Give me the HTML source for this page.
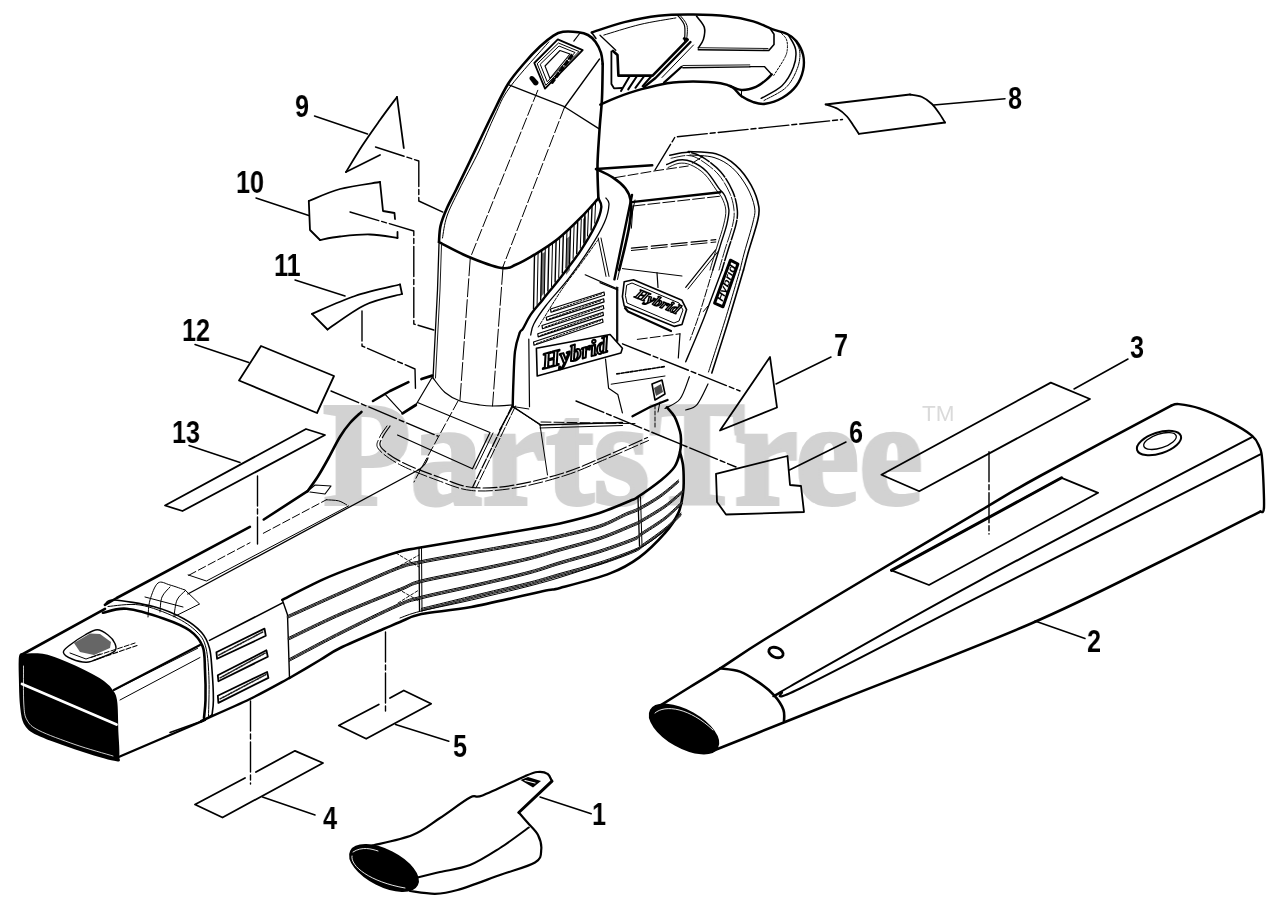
<!DOCTYPE html>
<html><head><meta charset="utf-8"><style>
html,body{margin:0;padding:0;background:#fff;width:1280px;height:912px;overflow:hidden}
.wm{position:absolute;left:0;top:0;will-change:transform;font-family:"Liberation Serif",serif;font-weight:bold;color:#d2d2d2;white-space:nowrap;line-height:1}
.lb{position:absolute;will-change:transform;font-family:"Liberation Sans",sans-serif;font-weight:bold;font-size:31px;line-height:1;color:#000;transform-origin:0 0}
svg{position:absolute;left:0;top:0;will-change:transform}
</style></head><body>
<div class="wm" style="left:322.5px;top:378.5px;font-size:149px;transform:scaleX(0.962);transform-origin:0 0;-webkit-text-stroke:4px #d2d2d2">PartsTree</div>
<div class="wm" style="left:921.8px;top:402.5px;font-family:'Liberation Sans',sans-serif;font-weight:normal;font-size:22.5px;color:#dadada">TM</div>
<svg width="1280" height="912" viewBox="0 0 1280 912" stroke-linejoin="round" stroke-linecap="round">
<polyline points="314.5,116 367.5,134" fill="none" stroke="#000" stroke-width="1.5"/>
<polyline points="256,198 308.8,215.5" fill="none" stroke="#000" stroke-width="1.5"/>
<polyline points="295,280 345,296" fill="none" stroke="#000" stroke-width="1.5"/>
<polyline points="195,344.5 248.8,362.5" fill="none" stroke="#000" stroke-width="1.5"/>
<polyline points="189,445.5 240,462.5" fill="none" stroke="#000" stroke-width="1.5"/>
<polyline points="933.8,105 1005,98.8" fill="none" stroke="#000" stroke-width="1.5"/>
<polyline points="831,357 776,384" fill="none" stroke="#000" stroke-width="1.5"/>
<polyline points="846,442 789.5,470" fill="none" stroke="#000" stroke-width="1.5"/>
<polyline points="1128,359 1074,389" fill="none" stroke="#000" stroke-width="1.5"/>
<polyline points="1035,621 1085,638.5" fill="none" stroke="#000" stroke-width="1.5"/>
<polyline points="540,797 591.2,813.8" fill="none" stroke="#000" stroke-width="1.5"/>
<polyline points="262.5,797 315,815" fill="none" stroke="#000" stroke-width="1.5"/>
<polyline points="395.5,724.5 448.8,741.2" fill="none" stroke="#000" stroke-width="1.5"/>
<path d="M380,155 L346,172" fill="none" stroke="#000" stroke-width="1.8"/>
<path d="M346,172 C348.7,167.7 356.3,154.7 362,146 C367.7,137.3 374.2,128.2 380,120 C385.8,111.8 394.2,100.8 397,97" fill="none" stroke="#000" stroke-width="1.8"/>
<polyline points="397,97 403.8,148" fill="none" stroke="#000" stroke-width="1.8"/>
<polyline points="375.5,147 418.8,161 418.8,201 445,213" fill="none" stroke="#000" stroke-width="1.4" stroke-dasharray="30 3 5 3"/>
<path d="M320,240 C323.3,239.4 331.7,237.4 340,236.5 C348.3,235.6 360.4,234.2 370,234.5 C379.6,234.8 392.9,237.4 397.5,238" fill="none" stroke="#000" stroke-width="1.8"/>
<polyline points="397.5,232 397.5,238" fill="none" stroke="#000" stroke-width="1.8"/>
<polyline points="320,240 310,230 308.8,201" fill="none" stroke="#000" stroke-width="1.8"/>
<path d="M308.8,201 C314,199 328.1,192.2 340,189 C351.9,185.8 373.3,183.2 380,182" fill="none" stroke="#000" stroke-width="1.8"/>
<polyline points="380,182 383,211 394.5,213 395,219" fill="none" stroke="#000" stroke-width="1.8"/>
<polyline points="350,212 413.8,231 413.8,324 433.8,330" fill="none" stroke="#000" stroke-width="1.4" stroke-dasharray="30 3 5 3"/>
<path d="M312,313.8 C319.2,310.8 340.3,300.9 355,296 C369.7,291.1 392.5,286.4 400,284.5" fill="none" stroke="#000" stroke-width="1.8"/>
<polyline points="400,284.5 402,294" fill="none" stroke="#000" stroke-width="1.8"/>
<path d="M402,294 C395.8,295.8 377.4,299.1 365,305 C352.6,310.9 333.8,325.4 327.5,329.5" fill="none" stroke="#000" stroke-width="1.8"/>
<polyline points="327.5,329.5 312,313.8" fill="none" stroke="#000" stroke-width="1.8"/>
<polyline points="362,311 362,346 415,369 415.5,390" fill="none" stroke="#000" stroke-width="1.4" stroke-dasharray="30 3 5 3"/>
<polygon points="261,346 334,376 317,413 239,380.5" fill="none" stroke="#000" stroke-width="1.8"/>
<polyline points="331,391 437.5,436" fill="none" stroke="#000" stroke-width="1.4" stroke-dasharray="30 3 5 3"/>
<polygon points="306,429 325,435 182.5,511 165,505.5" fill="none" stroke="#000" stroke-width="1.8"/>
<polyline points="257.5,476 257.5,544" fill="none" stroke="#000" stroke-width="1.4" stroke-dasharray="30 3 5 3"/>
<polyline points="825.5,104.5 910,94.5" fill="none" stroke="#000" stroke-width="1.8"/>
<path d="M910,94.5 C912,94.9 918.3,95.4 922,97 C925.7,98.6 929.2,101.3 932,104 C934.8,106.7 936.8,109.9 939,113 C941.2,116.1 944,120.9 945,122.5" fill="none" stroke="#000" stroke-width="1.8"/>
<polyline points="945,122.5 858.8,133.8" fill="none" stroke="#000" stroke-width="1.8"/>
<path d="M858.8,133.8 C857.8,132.3 855,127.9 853,125 C851,122.1 849.5,119.2 847,116.5 C844.5,113.8 841.5,111 838,109 C834.5,107 828,105.2 826,104.5" fill="none" stroke="#000" stroke-width="1.8"/>
<polyline points="655,170 675,137 842.5,119.5" fill="none" stroke="#000" stroke-width="1.4" stroke-dasharray="30 3 5 3"/>
<polygon points="720,430.5 770,357 777,407.5" fill="none" stroke="#000" stroke-width="1.8"/>
<polyline points="622.5,343.8 740,391" fill="none" stroke="#000" stroke-width="1.4" stroke-dasharray="30 3 5 3"/>
<polygon points="716,473.8 787.5,456 790,485 801,486 804,512 726,514.5 717,502" fill="none" stroke="#000" stroke-width="1.8"/>
<polyline points="576,401 736,467" fill="none" stroke="#000" stroke-width="1.4" stroke-dasharray="30 3 5 3"/>
<polygon points="881.4,474.7 1050.8,382.6 1090,399 919.2,491.2" fill="none" stroke="#000" stroke-width="1.8"/>
<polyline points="989,451.7 989,534" fill="none" stroke="#000" stroke-width="1.4" stroke-dasharray="30 3 5 3"/>
<polyline points="245,778 195,804.5 222.5,817.5 323,763 295,750.8 256,772" fill="none" stroke="#000" stroke-width="1.8"/>
<polyline points="250.5,701 250.5,784" fill="none" stroke="#000" stroke-width="1.4" stroke-dasharray="30 3 5 3"/>
<polyline points="378.8,704.5 338.8,725.5 366.2,738.8 431.2,703.8 403.8,690.5 390,698" fill="none" stroke="#000" stroke-width="1.8"/>
<polyline points="385.5,632 385.5,714" fill="none" stroke="#000" stroke-width="1.4" stroke-dasharray="30 3 5 3"/>
<path d="M659.7,705.8 C664.8,702.7 679.9,693.2 690,687 C700.1,680.8 708,676.1 720.3,668.3 C732.6,660.5 740.4,654.4 763.7,640 C787,625.6 823.3,603.9 860,582 C896.7,560.1 954,526.2 984,508.5 C1014,490.8 1008.8,493.1 1040,476 C1071.2,458.9 1149.4,417.3 1171.3,405.6" fill="none" stroke="#000" stroke-width="2.6"/>
<path d="M1171.3,405.6 C1172.5,405.4 1174.1,403.6 1178.8,404.1 C1183.5,404.6 1191.3,405.6 1199.4,408.4 C1207.5,411.1 1218.8,416.1 1227.5,420.6 C1236.2,425.1 1246.6,431.2 1251.9,435.6 C1257.2,440 1257.7,442.8 1259.4,446.9 C1261.1,451 1261.4,450 1262.2,460 C1263,470 1264.3,498.3 1264,506.9 C1263.7,515.5 1260.9,510.8 1260.3,511.6" fill="none" stroke="#000" stroke-width="2.4"/>
<path d="M1260.3,511.6 C1244.2,519.7 1202.1,541.3 1163.8,560 C1125.4,578.7 1084,600.7 1030,624 C976,647.3 880.8,683.7 840,700 C799.2,716.3 806,713.6 785,722 C764,730.4 725.6,745.8 713.7,750.5" fill="none" stroke="#000" stroke-width="2.6"/>
<path d="M1252.8,436.6 C1207.3,460.6 1057.1,538.6 980,580.3 C902.9,621.9 823,667.8 790,686.5 C757,705.2 783.1,691.3 781.7,692.3" fill="none" stroke="#000" stroke-width="2"/>
<path d="M1260.3,454.4 C1213.6,478 1056.7,557.2 980,596.2 C903.3,635.2 833,672.5 800,688.5 C767,704.5 784.8,691.7 781.7,692.3" fill="none" stroke="#000" stroke-width="2"/>
<path d="M720.3,668.3 C723.6,668.8 733.6,669.3 740,671.6 C746.4,673.9 752.7,678.2 758.4,682.1 C764.1,686 770,690.7 774.2,695.3 C778.4,699.9 781.8,705.3 783.4,709.7 C785,714.1 783.9,719.6 784,721.6" fill="none" stroke="#000" stroke-width="2.6"/>
<polygon points="891.5,570.4 1061.6,477.8 1098.1,492.8 929,585" fill="none" stroke="#000" stroke-width="1.8"/>
<polyline points="891.5,570.4 1061.6,477.8" fill="none" stroke="#000" stroke-width="3"/>
<ellipse cx="1159" cy="443" rx="23" ry="10.5" transform="rotate(-18 1159 443)" fill="none" stroke="#000" stroke-width="2"/>
<ellipse cx="1160" cy="441" rx="17" ry="7" transform="rotate(-18 1160 441)" fill="none" stroke="#000" stroke-width="1.3"/>
<ellipse cx="776" cy="652.5" rx="7.5" ry="4.8" transform="rotate(22 776 652.5)" fill="none" stroke="#000" stroke-width="2.8"/>
<ellipse cx="684" cy="729" rx="38" ry="18" transform="rotate(29.5 684 729)" fill="#000" stroke="#000" stroke-width="2"/>
<path d="M655,713 C665,704 690,708 713,730" fill="none" stroke="#fff" stroke-width="0.9"/>
<path d="M372.5,845.5 C379.2,843.8 401.2,839.6 412.5,835 C423.8,830.4 430.4,824.2 440,818 C449.6,811.8 462.9,801.2 470,797.5 C477.1,793.8 473.3,799 482.5,795.5 C491.7,792 515.8,780.2 525,776.2 C534.2,772.3 533.8,772.4 537.5,772 C541.2,771.6 545.1,772.2 547.5,773.8 C549.9,775.3 551.2,780 552,781.2" fill="none" stroke="#000" stroke-width="2.2"/>
<polyline points="552,781.2 518.8,812.5" fill="none" stroke="#000" stroke-width="3"/>
<path d="M518.8,812.5 C520.2,814.2 524.3,818.8 527.5,822.5 C530.7,826.2 535.7,830.4 538,835 C540.3,839.6 541.8,845.4 541.2,850 C540.8,854.6 541.9,858.3 535,862.5 C528.1,866.7 512.9,870.4 500,875 C487.1,879.6 468.3,886.9 457.5,890 C446.7,893.1 442.9,893.6 435,893.8 C427.1,893.9 414.2,891.5 410,891" fill="none" stroke="#000" stroke-width="2.2"/>
<path d="M417.5,877.5 C421.2,876.6 431.2,874.1 440,872 C448.8,869.9 460,869 470,865 C480,861 490.2,854.2 500,848 C509.8,841.8 524,830.9 528.8,827.5" fill="none" stroke="#000" stroke-width="2"/>
<polygon points="520.5,780 528,777 541,781 533,787.5" fill="#000"/>
<polyline points="525,780.5 535,783" fill="none" stroke="#fff" stroke-width="1.2"/>
<ellipse cx="384" cy="868" rx="37" ry="17.5" transform="rotate(27 384 868)" fill="#000" stroke="#000" stroke-width="2"/>
<path d="M352,856 C350,866 370,882 405,888" fill="none" stroke="#fff" stroke-width="0.9"/><path d="M353,852 C362,846 372,849 378,851" fill="none" stroke="#fff" stroke-width="0.9"/>
<path d="M439,242.2 C439.2,239.5 439.2,231.7 440.5,226 C441.8,220.3 444.3,214.2 447,208 C449.7,201.8 452.7,196.8 456.5,189 C460.3,181.2 464,173.5 470,161 C476,148.5 486.2,126.8 492.5,114 C498.8,101.2 502.8,92.4 508,84 C513.2,75.6 518.7,69.8 524,63.5 C529.3,57.2 535.1,51.1 540,46.5 C544.9,41.9 549.7,38.1 553.5,35.6 C557.3,33.1 558.9,32.4 563,31.8 C567.1,31.2 574.2,31.7 578.4,32.2 C582.6,32.7 585.1,33.4 588,35 C590.9,36.6 593.4,38.9 595.6,41.9 C597.8,44.9 599.8,49.1 601,52.8 C602.2,56.5 602.4,62.1 602.7,64" fill="none" stroke="#000" stroke-width="2.6"/>
<path d="M602.7,64 C602.6,69.7 602.5,87 602,98 C601.5,109 600.2,118.8 599.5,130 C598.8,141.2 597.7,153.6 597.5,165 C597.3,176.4 598.2,192.8 598.4,198.4" fill="none" stroke="#000" stroke-width="2.6"/>
<path d="M442.5,238 C443.2,234.3 444.2,224 447,216 C449.8,208 453.7,200.8 459,190 C464.3,179.2 473,163.5 479,151 C485,138.5 489.8,125.7 495,115 C500.2,104.3 501,99.2 510,87 C519,74.8 542.3,49.4 548.8,41.9" fill="none" stroke="#000" stroke-width="1"/>
<path d="M439,242.2 C443.7,244.5 456.8,251.9 467.2,256.2 C477.6,260.6 493.5,266.6 501.6,268 C509.7,269.4 510.1,267 515.6,264.8 C521.1,262.6 527.4,259 534.4,254.7 C541.4,250.4 550,245.2 557.8,239 C565.6,232.8 574.5,224 581.2,217.2 C588,210.4 595.5,201.5 598.4,198.4" fill="none" stroke="#000" stroke-width="2.6"/>
<polyline points="508.9,84.8 564.4,106.7 598.8,128.6" fill="none" stroke="#000" stroke-width="1.3"/>
<polyline points="599.5,59 564.4,107.5" fill="none" stroke="#000" stroke-width="1.3"/>
<polyline points="537.8,90.3 470.3,257.8" fill="none" stroke="#000" stroke-width="1" stroke-dasharray="12 3"/>
<polyline points="564.4,107.5 503.1,266.4" fill="none" stroke="#000" stroke-width="1" stroke-dasharray="12 3"/>
<polygon points="534.3,63 557.8,39.4 582.7,50.1 545,88.6" fill="none" stroke="#000" stroke-width="1.8"/>
<polygon points="537.5,63.5 558.5,43 579,51.5 546,85" fill="none" stroke="#000" stroke-width="1"/>
<polygon points="540.5,64 559,46 575,52.5 547.5,81.5" fill="none" stroke="#000" stroke-width="1"/>
<polygon points="545,66 560,50.5 570,54 550,78.5" fill="none" stroke="#000" stroke-width="1.1"/>
<polygon points="567.2,58.9 571.2,53.4 573.7,55.9 570.7,59.9" fill="#000"/>
<polygon points="562.8,64.9 566.8,59.4 569.2,61.9 566.2,65.9" fill="#000"/>
<polygon points="558.3,71.0 562.3,65.5 564.8,68.0 561.8,72.0" fill="#000"/>
<polygon points="553.9,77.0 557.9,71.5 560.4,74.0 557.4,78.0" fill="#000"/>
<polygon points="549.4,83.1 553.4,77.6 555.9,80.1 552.9,84.1" fill="#000"/>
<path d="M529.5,79 C529,76 532,75 534,77 L538.5,82 C539,85 536,86 534,85Z" fill="#000"/>
<polyline points="573.8,41.1 580,33" fill="none" stroke="#000" stroke-width="1.2"/>
<polyline points="439,243.8 437.5,290 433,378" fill="none" stroke="#000" stroke-width="1.3"/>
<polyline points="441.5,245 440,290 435.5,378" fill="none" stroke="#000" stroke-width="0.9"/>
<polyline points="470.3,257.8 460,400" fill="none" stroke="#000" stroke-width="1" stroke-dasharray="18 3"/>
<polyline points="503.1,266.4 492.5,406" fill="none" stroke="#000" stroke-width="1" stroke-dasharray="18 3"/>
<path d="M433,378 C435,380.4 440.5,388.7 445,392.5 C449.5,396.3 454.2,398.9 460,401 C465.8,403.1 474.6,404.2 480,405 C485.4,405.8 487.2,406 492.5,406 C497.8,406 508.8,405.2 512,405" fill="none" stroke="#000" stroke-width="1.2"/>
<path d="M591.7,32.5 C597.2,30.8 613.2,25 624.4,22.2 C635.6,19.4 647.3,17 658.8,15.7 C670.2,14.4 681.6,14.4 693.1,14.5 C704.6,14.6 717.5,15.1 727.5,16.2 C737.5,17.3 745.8,19.1 753.3,21.3 C760.8,23.5 766.5,27 772.2,29.1 C777.9,31.2 783.7,32.2 787.7,34.2 C791.7,36.2 793.7,37.7 796.3,41.1 C798.9,44.5 802,49.9 803.1,54.8 C804.2,59.7 804.2,65.1 803.1,70.3 C802,75.5 799.7,81.2 796.3,85.8 C792.9,90.4 787.7,94.8 782.5,97.8 C777.3,100.8 770.2,103.1 765.3,103.8 C760.4,104.5 757.3,103.4 753.3,102.1 C749.3,100.8 744.7,98.5 741.2,96.1 C737.8,93.7 736.1,89.7 732.7,87.5 C729.3,85.3 727.2,84.2 720.6,83.2 C714,82.2 702,81.5 693.1,81.5 C684.2,81.5 675.9,81.9 667.3,83.2 C658.7,84.5 650.2,86.8 641.6,89.2 C633,91.6 622.7,95.2 615.8,97.8 C608.9,100.4 602.9,103.5 600.3,104.7" fill="none" stroke="#000" stroke-width="2.4"/>
<path d="M603.8,35.1 C609.8,33.3 628,27.4 640,24.5 C652,21.6 669.9,19 675.9,17.9" fill="none" stroke="#000" stroke-width="1"/>
<path d="M677.7,15.3 C678.8,17 683.4,21.3 684.5,25.6 C685.6,29.9 684.5,38.5 684.5,41.1" fill="none" stroke="#000" stroke-width="1.2"/>
<path d="M680,15.3 C681.2,17 685.9,21.3 687,25.6 C688.1,29.9 686.6,38.5 686.5,41.1" fill="none" stroke="#000" stroke-width="1"/>
<path d="M696.6,16.2 C697.9,18.1 703.2,23.4 704.3,27.3 C705.4,31.2 704.4,35.9 703.4,39.4 C702.4,42.9 699.1,46.6 698.3,48" fill="none" stroke="#000" stroke-width="1.6"/>
<polyline points="698.3,49.7 768.8,50.5 774,44.5 774,34.2 770.5,29" fill="none" stroke="#000" stroke-width="1.6"/>
<polyline points="698.3,47.7 768,48.5" fill="none" stroke="#000" stroke-width="0.9"/>
<polyline points="682.8,67.7 749.8,66.9" fill="none" stroke="#000" stroke-width="1.4"/>
<polyline points="682.8,65.5 749.8,64.9" fill="none" stroke="#000" stroke-width="0.9"/>
<polyline points="749.8,66.6 764.4,66.6 771.7,74.4" fill="none" stroke="#000" stroke-width="1.4"/>
<path d="M730,85.8 C731.9,86.5 737.2,89.8 741.5,90 C745.8,90.2 751.8,88.6 756,86.9 C760.2,85.2 763.9,81.7 766.5,79.6 C769.1,77.5 770.8,75.3 771.7,74.4" fill="none" stroke="#000" stroke-width="2.4"/>
<polyline points="741.5,90 741.5,97" fill="none" stroke="#000" stroke-width="1"/>
<path d="M779,31.1 C780.2,32.4 784.9,36 786.2,39 C787.6,42 787.6,46.1 787.3,49.4 C787,52.7 786.5,54.4 784.2,58.8 C781.9,63.1 775.5,72.6 773.8,75.4" fill="none" stroke="#000" stroke-width="1" stroke-dasharray="2 1.5"/>
<path d="M788.3,34.8 C789.5,37.2 794.7,44 795.6,49.4 C796.5,54.8 795.8,61 793.5,67.1 C791.2,73.2 787.4,80.6 782,85.8 C776.6,91 764.7,96.2 761.2,98.3" fill="none" stroke="#000" stroke-width="1.5"/>
<path d="M791.5,36 C792.8,38.3 798.5,44.7 799.5,50 C800.5,55.3 799.8,61.8 797.5,68 C795.2,74.2 791.6,82.1 786,87.5 C780.4,92.9 767.7,98.3 764,100.5" fill="none" stroke="#000" stroke-width="1" stroke-dasharray="3 1"/>
<polyline points="613,51 617.5,55 618.4,75.6 652.6,75.6 687.7,39.6 684,38.5" fill="none" stroke="#000" stroke-width="2.6"/>
<polyline points="611.4,51.5 611.4,84 614,88.3 622,88" fill="none" stroke="#000" stroke-width="1.8"/>
<polyline points="690.5,42 655.5,78 644,87" fill="none" stroke="#000" stroke-width="2.4"/>
<polyline points="693.5,45 662,77.5" fill="none" stroke="#000" stroke-width="1"/>
<polyline points="681.6,66.8 664,82.6" fill="none" stroke="#000" stroke-width="2.2"/>
<polyline points="621,91 629.5,76.5" fill="none" stroke="#000" stroke-width="2"/>
<polyline points="628.2,89.4 636.7,76.5" fill="none" stroke="#000" stroke-width="2"/>
<polyline points="635.4,87.8 643.9,76.5" fill="none" stroke="#000" stroke-width="2"/>
<polyline points="642.6,86.2 651.1,76.5" fill="none" stroke="#000" stroke-width="2"/>
<polyline points="600,35.3 615.8,50.2" fill="none" stroke="#000" stroke-width="1.3"/>
<polyline points="596,38.5 591.7,32.5" fill="none" stroke="#000" stroke-width="1.5"/>
<polyline points="596.1,169 652.2,165.3" fill="none" stroke="#000" stroke-width="2.6"/>
<path d="M596.1,169 C598.9,170.4 608.1,174.4 613,177.6 C617.9,180.8 622.3,184.5 625.3,188.3 C628.2,192.1 629.9,195 630.7,200.6 C631.5,206.2 630.8,214.6 629.9,222 C629,229.4 627.1,237.1 625.3,245.1 C623.5,253.1 620.2,265.9 619.2,270" fill="none" stroke="#000" stroke-width="2.6"/>
<polyline points="615.3,177.6 656,170.7 688.2,166" fill="none" stroke="#000" stroke-width="1" stroke-dasharray="10 3"/>
<polyline points="631.4,202.1 720.4,192.2" fill="none" stroke="#000" stroke-width="2.4"/>
<polyline points="633,206 722,196" fill="none" stroke="#000" stroke-width="1" stroke-dasharray="12 3"/>
<polyline points="633,206 631.4,228.2" fill="none" stroke="#000" stroke-width="1"/>
<polyline points="631.4,248.2 715.8,239.7" fill="none" stroke="#000" stroke-width="1.2" stroke-dasharray="16 4"/>
<polyline points="631.4,250.5 715.8,242" fill="none" stroke="#000" stroke-width="1" stroke-dasharray="16 4"/>
<path d="M666.7,164.5 C668.8,163.8 674.9,160.5 679,160 C683.1,159.5 686.7,159.6 691.3,161.5 C695.9,163.4 702,166.9 706.6,171.4 C711.2,175.9 715.8,184.2 718.9,188.3 C722,192.4 723.3,192.4 725,196 C726.7,199.6 728.6,204.9 728.9,209.8 C729.2,214.7 728,219.3 726.6,225.2 C725.2,231.1 722.7,237.6 720.4,245.1 C718.1,252.6 714.1,265.9 712.8,270" fill="none" stroke="#000" stroke-width="1.4"/>
<path d="M668,167.5 C669.8,166.8 675.2,163.8 679,163.3 C682.8,162.9 686.2,163 690.5,164.8 C694.8,166.6 700.2,169.8 704.5,174 C708.8,178.2 713.4,186 716.3,190 C719.2,194 720.4,194.7 722,198 C723.6,201.3 725.5,205.5 725.8,210 C726.1,214.5 725,219.2 723.6,225 C722.2,230.8 719.8,237.5 717.5,245 C715.2,252.5 711.2,265.8 710,270" fill="none" stroke="#000" stroke-width="0.9"/>
<polyline points="692.4,163.1 702.8,156.4" fill="none" stroke="#000" stroke-width="1"/>
<path d="M669.8,155.3 C672.9,154.8 682.8,152 688.2,152.3 C693.6,152.6 696.6,153.7 702,156.9 C707.4,160.1 715.3,165.7 720.4,171.4 C725.5,177.2 729.9,185 732.7,191.4 C735.5,197.8 736.8,204.2 737.3,209.8 C737.8,215.4 737.3,218.5 735.8,225.2 C734.3,231.8 730.4,242.2 728.1,249.7 C725.8,257.2 723,266.6 722,270" fill="none" stroke="#000" stroke-width="1.5" stroke-dasharray="20 2"/>
<path d="M671,158.3 C673.8,157.8 683.1,155.2 688,155.5 C692.9,155.8 695.5,156.9 700.5,160 C705.5,163.1 713.1,168.5 718,174 C722.9,179.5 727,187 729.7,193 C732.4,199 733.5,204.7 734,210 C734.5,215.3 734.1,218.4 732.6,225 C731.1,231.6 727.3,242 725,249.5 C722.7,257 720,266.6 719,270" fill="none" stroke="#000" stroke-width="0.9" stroke-dasharray="14 2"/>
<path d="M688.2,151.5 C692.8,151.9 707.9,151.5 715.8,153.8 C723.7,156.1 729.9,160.1 735.8,165.3 C741.7,170.5 747.3,178.3 751.1,185.2 C754.9,192.1 757.8,200.6 758.8,206.7 C759.8,212.8 759.1,214.3 757.3,222 C755.5,229.7 750.4,244.8 748.1,252.8 C745.8,260.8 744.3,267.1 743.5,270" fill="none" stroke="#000" stroke-width="1.6"/>
<path d="M690,155 C694,155.4 706.9,155.3 714,157.5 C721.1,159.7 727,163.1 732.5,168 C738,172.9 743.3,180.5 747,187 C750.7,193.5 753.5,201.2 754.5,207 C755.5,212.8 754.7,214.5 753,222 C751.3,229.5 746.7,244 744.5,252 C742.3,260 740.8,267 740,270" fill="none" stroke="#000" stroke-width="1"/>
<path d="M743.5,270 C740.9,278.7 733.3,304.8 728,322 C722.7,339.2 714.5,364.5 711.8,373" fill="none" stroke="#000" stroke-width="1.6"/>
<path d="M740,270 C737.4,278.7 729.8,305 724.5,322 C719.2,339 711.2,363.7 708.5,372" fill="none" stroke="#000" stroke-width="1"/>
<path d="M722,270 C719,278 710,302.7 704,318 C698,333.3 688.8,354.5 685.7,361.8" fill="none" stroke="#000" stroke-width="1.4"/>
<path d="M712.8,270 C710.7,277 703.8,300.3 700,312 C696.2,323.7 691.7,335.3 690,340" fill="none" stroke="#000" stroke-width="1" stroke-dasharray="8 2"/>
<polyline points="708,306 703.4,311.5" fill="none" stroke="#000" stroke-width="1"/>
<polygon points="730.4,260.2 737.9,264 723,306.8 714.6,303.1" fill="none" stroke="#000" stroke-width="3" stroke-linejoin="round"/>
<text transform="translate(722.5,302) rotate(-69)" font-family="Liberation Sans" font-weight="bold" font-style="italic" font-size="10" fill="#000" textLength="38" lengthAdjust="spacingAndGlyphs">Hybrid</text>
<polygon points="624.2,281.7 633.5,279.8 682,300.3 686.6,309.6 682,324.5 674.5,326.4 624.2,305.9 622.4,296.6" fill="none" stroke="#000" stroke-width="1.6"/>
<polygon points="627,285 632,283 679,303 683,310 679,321 674,323 627,303 625.5,296" fill="none" stroke="#000" stroke-width="1"/>
<text transform="translate(634,297) rotate(22) skewX(-10)" font-family="Liberation Serif" font-weight="bold" font-style="italic" font-size="14" fill="#fff" stroke="#000" stroke-width="1.4" textLength="46" lengthAdjust="spacingAndGlyphs">Hybrid</text>
<polyline points="622.4,268.6 682,276" fill="none" stroke="#000" stroke-width="1"/>
<polyline points="657,272.7 658,287.5" fill="none" stroke="#000" stroke-width="1.2"/>
<polyline points="625,308 628,311.5 671,331" fill="none" stroke="#000" stroke-width="2.2"/>
<polyline points="685.7,287.3 715.5,250" fill="none" stroke="#000" stroke-width="1.2"/>
<polyline points="688,289 718,251.5" fill="none" stroke="#000" stroke-width="1"/>
<polyline points="617.7,287.3 617.7,341.3" fill="none" stroke="#000" stroke-width="1.2"/>
<polyline points="600,282.6 617.7,290" fill="none" stroke="#000" stroke-width="1.2"/>
<polyline points="637.3,339.4 680,333.8" fill="none" stroke="#000" stroke-width="1" stroke-dasharray="10 3"/>
<polyline points="680,333.8 678.3,358" fill="none" stroke="#000" stroke-width="1.2"/>
<polyline points="616.8,373.9 665.2,366.5" fill="none" stroke="#000" stroke-width="1.6" stroke-dasharray="3 1.5"/>
<polyline points="611.2,384.2 665,376" fill="none" stroke="#000" stroke-width="1"/>
<path d="M689.4,376.7 C687.8,380.4 684.1,393.7 680,399 C675.9,404.3 667.5,406.8 665,408.4" fill="none" stroke="#000" stroke-width="1.2"/>
<path d="M708,384 C706.2,387.4 700.7,400.3 697,404.6 C693.3,408.9 687.6,409.1 685.7,410" fill="none" stroke="#000" stroke-width="1.2"/>
<polygon points="652,384 662,380 665,394 655,400" fill="none" stroke="#000" stroke-width="1.6"/>
<path d="M654,388 L661,384 L663,392 L656,396Z" fill="#000" opacity="0.7"/>
<polyline points="632.5,416.2 650,407 667.5,400" fill="none" stroke="#000" stroke-width="2.4"/>
<polyline points="655,405 655,427.5" fill="none" stroke="#000" stroke-width="1" stroke-dasharray="4 2"/>
<polyline points="660,402 658,412" fill="none" stroke="#000" stroke-width="1"/>
<polyline points="534.5,254.9 533.5,309" fill="none" stroke="#000" stroke-width="1.4"/>
<polyline points="538.1,253 537.1,304.5" fill="none" stroke="#000" stroke-width="1"/>
<polyline points="541.7,250.6 540.7,300" fill="none" stroke="#000" stroke-width="1.4"/>
<polyline points="545.3,248.2 544.3,295.5" fill="none" stroke="#000" stroke-width="1"/>
<polyline points="548.9,245.8 547.9,291" fill="none" stroke="#000" stroke-width="1.4"/>
<polyline points="552.5,243.4 551.5,286.5" fill="none" stroke="#000" stroke-width="1"/>
<polyline points="556.1,240.9 555.1,282" fill="none" stroke="#000" stroke-width="1.4"/>
<polyline points="559.7,238.5 558.7,277.5" fill="none" stroke="#000" stroke-width="1"/>
<polyline points="563.3,235.7 562.3,272.9" fill="none" stroke="#000" stroke-width="1.4"/>
<polyline points="566.9,232.3 565.9,268" fill="none" stroke="#000" stroke-width="1"/>
<polyline points="570.5,229 569.5,263.2" fill="none" stroke="#000" stroke-width="1.4"/>
<polyline points="574.1,225.7 573.1,258.4" fill="none" stroke="#000" stroke-width="1"/>
<polyline points="577.7,222.4 576.7,253.6" fill="none" stroke="#000" stroke-width="1.4"/>
<polyline points="581.3,219.1 580.3,248.3" fill="none" stroke="#000" stroke-width="1"/>
<polyline points="584.9,214.4 583.9,242.2" fill="none" stroke="#000" stroke-width="1.4"/>
<polyline points="588.5,209.7 587.5,236.1" fill="none" stroke="#000" stroke-width="1"/>
<polyline points="592.1,205 591.1,230" fill="none" stroke="#000" stroke-width="1.4"/>
<polyline points="595.7,200.3 594.7,223.2" fill="none" stroke="#000" stroke-width="1"/>
<path d="M541,254 L545,252 L545,292 L541,297Z M566,239 L570,236 L570,270 L566,275Z M583,219 L586,216 L586,243 L583,248Z" fill="#000" opacity="0.55"/>
<path d="M598.2,198 C598.7,199.6 601.8,202.7 601.3,207.3 C600.8,211.9 598.8,218.3 595.2,225.7 C591.6,233.1 585.4,243.4 579.8,251.8 C574.2,260.2 567.5,268.5 561.4,276.4 C555.3,284.3 548.1,293 543,299.4 C537.9,305.8 534,309.8 530.7,314.7 C527.4,319.6 524.9,325.6 523,328.6 C521.1,331.7 520.9,329.2 519.6,333 C518.3,336.8 516,343.2 515,351.4 C514,359.6 513.8,372.9 513.4,382.1 C513,391.3 512.8,402.6 512.7,406.7" fill="none" stroke="#000" stroke-width="2.4"/>
<path d="M605.9,198 C606.4,199 609.2,200.1 609,204.2 C608.8,208.3 607.5,215.4 604.4,222.6 C601.3,229.8 596.5,238 590.6,247.2 C584.7,256.4 576.5,268.2 569.1,277.9 C561.7,287.6 551.9,297.8 546,305.5 C540.1,313.2 536.3,319.1 533.8,324 C531.2,328.9 531.2,333.2 530.7,335" fill="none" stroke="#000" stroke-width="1.3"/>
<path d="M598.2,239.5 C595.2,243.8 586.1,256.6 580,265 C573.9,273.4 568.3,279.9 561.4,290.2 C554.5,300.5 542.2,320.9 538.4,327" fill="none" stroke="#000" stroke-width="1" stroke-dasharray="3 1.5"/>
<polyline points="598.2,238 606,276.4" fill="none" stroke="#000" stroke-width="1"/>
<polyline points="601,238 609,276.4" fill="none" stroke="#000" stroke-width="1"/>
<polyline points="585.2,274.8 616.7,288.6" fill="none" stroke="#000" stroke-width="1.2"/>
<polyline points="616.7,287 616.7,340.7" fill="none" stroke="#000" stroke-width="1.2"/>
<polyline points="632,195 614.4,279.4" fill="none" stroke="#000" stroke-width="2.4"/>
<polyline points="635,200 617.5,279.4" fill="none" stroke="#000" stroke-width="1"/>
<polyline points="528.8,339 529.5,406.7" fill="none" stroke="#000" stroke-width="1.2"/>
<polyline points="512.7,406.7 541,425" fill="none" stroke="#000" stroke-width="1.4"/>
<polyline points="514,406.7 528.8,409" fill="none" stroke="#000" stroke-width="1"/>
<polyline points="512,408 499.6,430" fill="none" stroke="#000" stroke-width="1.2"/>
<polygon points="533.5,342 602.5,319 603,322.2 534,345.2" fill="none" stroke="#000" stroke-width="1.2"/>
<polyline points="536.5,343.6 600.5,320.6" fill="none" stroke="#000" stroke-width="1" stroke-dasharray="2 1.5"/>
<polygon points="537.8,333.8 602.9,312.2 603.4,315.4 538.2,336.9" fill="none" stroke="#000" stroke-width="1.2"/>
<polyline points="540.8,335.4 600.9,313.9" fill="none" stroke="#000" stroke-width="1" stroke-dasharray="2 1.5"/>
<polygon points="542,325.5 603.2,305.5 603.8,308.7 542.5,328.7" fill="none" stroke="#000" stroke-width="1.2"/>
<polyline points="545,327.1 601.2,307.1" fill="none" stroke="#000" stroke-width="1" stroke-dasharray="2 1.5"/>
<polygon points="546.2,317.2 603.6,298.8 604.1,301.9 546.8,320.4" fill="none" stroke="#000" stroke-width="1.2"/>
<polyline points="549.2,318.9 601.6,300.4" fill="none" stroke="#000" stroke-width="1" stroke-dasharray="2 1.5"/>
<polygon points="550.5,309 604,292 604.5,295.2 551,312.2" fill="none" stroke="#000" stroke-width="1.2"/>
<polyline points="553.5,310.6 602,293.6" fill="none" stroke="#000" stroke-width="1" stroke-dasharray="2 1.5"/>
<polygon points="536.4,348.3 610.1,334.5 622.4,348.3 620.9,353 537.2,376" fill="none" stroke="#000" stroke-width="1.6"/>
<polyline points="605.5,359 608.6,388.2 617.8,394.4 622.4,412.8" fill="none" stroke="#000" stroke-width="1.2"/>
<polyline points="541,422 635,423.6" fill="none" stroke="#000" stroke-width="1" stroke-dasharray="10 3"/>
<text x="0" y="0" transform="translate(543,369) rotate(-15) skewX(-8)" font-family="Liberation Serif" font-weight="bold" font-style="italic" font-size="22" fill="#fff" stroke="#000" stroke-width="2" paint-order="normal" textLength="68" lengthAdjust="spacingAndGlyphs">Hybrid</text>
<path d="M307.5,491.2 C309.2,488.8 314.3,482.2 317.7,476.8 C321.1,471.4 324.3,465.7 328,459 C331.7,452.3 336.3,442.7 340,436.7 C343.7,430.7 346.4,427.1 350,423 C353.6,418.9 359.6,413.7 361.5,411.8" fill="none" stroke="#000" stroke-width="2.6"/>
<polyline points="373,401 390,391 408.4,382.2" fill="none" stroke="#000" stroke-width="2.6"/>
<polyline points="384.5,393.7 402.6,413.4" fill="none" stroke="#000" stroke-width="1.2"/>
<polyline points="402.6,413.4 415.8,405" fill="none" stroke="#000" stroke-width="2.8"/>
<polyline points="415.8,405 432.2,377.3" fill="none" stroke="#000" stroke-width="1.2"/>
<polyline points="421.5,379 432.2,375.6" fill="none" stroke="#000" stroke-width="2.8"/>
<path d="M390,426 C388.8,427.9 384,433.9 382.5,437.5 C381,441.1 377.9,443.3 381.2,447.5 C384.6,451.7 392.7,457.5 402.5,462.5 C412.3,467.5 428.3,473.3 440,477.5 C451.7,481.7 460,486.2 472.5,487.5 C485,488.8 499.6,487.5 515,485 C530.4,482.5 550.4,477.1 565,472.5 C579.6,467.9 588.8,463.3 602.5,457.5 C616.2,451.7 640,440.8 647.5,437.5" fill="none" stroke="#000" stroke-width="1.2" stroke-dasharray="14 3"/>
<path d="M387,426 C385.8,427.9 380.9,433.7 379.5,437.5 C378.1,441.3 375,444.4 378.5,449 C382,453.6 390.6,459.8 400.5,465 C410.4,470.2 426.2,476.2 438,480.5 C449.8,484.8 458.7,489.2 471.5,490.5 C484.3,491.8 499.4,490.5 515,488 C530.6,485.5 550.4,480.1 565,475.5 C579.6,470.9 588.6,466.3 602.5,460.5 C616.4,454.7 640.8,443.8 648.5,440.5" fill="none" stroke="#000" stroke-width="1" stroke-dasharray="14 3"/>
<polyline points="397.5,435 472.5,468.8 490,432.5 417.5,402.5" fill="none" stroke="#000" stroke-width="1.2"/>
<polyline points="475.5,469 493,433" fill="none" stroke="#000" stroke-width="1"/>
<polyline points="512.5,405 472.5,487.5" fill="none" stroke="#000" stroke-width="1.3" stroke-dasharray="10 2"/>
<polyline points="458,401 420,470.6 414,482" fill="none" stroke="#000" stroke-width="1" stroke-dasharray="10 3"/>
<polyline points="515.5,406 476,488" fill="none" stroke="#000" stroke-width="1" stroke-dasharray="10 2"/>
<polyline points="512.5,406.2 540,425 547.5,475" fill="none" stroke="#000" stroke-width="1"/>
<polyline points="540,425 622.5,422.5" fill="none" stroke="#000" stroke-width="1.3"/>
<polyline points="540,428 622.5,425.5" fill="none" stroke="#000" stroke-width="1"/>
<polyline points="104.9,604.9 116.7,598 249.9,526.9" fill="none" stroke="#000" stroke-width="2.6"/>
<polyline points="263.8,519.5 307.5,491.2" fill="none" stroke="#000" stroke-width="2.6"/>
<polyline points="307.5,491.2 315,485 331,486 325,494 310,492" fill="none" stroke="#000" stroke-width="1.2"/>
<polyline points="187.8,594 419.7,469.3" fill="none" stroke="#000" stroke-width="1.3"/>
<path d="M419.7,469.3 C420.6,468.4 423.6,465.9 425,464 C426.4,462.1 427.5,459 428,458" fill="none" stroke="#000" stroke-width="1.2"/>
<polyline points="188.7,575.3 250,542.7" fill="none" stroke="#000" stroke-width="1" stroke-dasharray="8 3"/>
<polyline points="263.3,533.3 326.3,499.8" fill="none" stroke="#000" stroke-width="1" stroke-dasharray="8 3"/>
<path d="M326.3,499.8 C328.3,500 335,500 338.4,500.8 C341.8,501.6 345.2,504.1 346.6,504.8" fill="none" stroke="#000" stroke-width="1"/>
<polyline points="188.1,574.9 206.4,581 348.6,505.9" fill="none" stroke="#000" stroke-width="1"/>
<path d="M104.9,604.9 C106.4,604.1 105.5,599.7 113.7,600 C121.9,600.3 142.5,603.7 154.2,606.8 C165.9,609.9 175.9,614.4 183.8,618.7 C191.7,623 197.3,627.6 201.6,632.5 C205.9,637.4 207.8,642 209.5,648.3 C211.2,654.5 211.3,661.4 212,670 C212.7,678.6 213.4,692.5 213.4,700 C213.4,707.5 212.2,712.5 212,715" fill="none" stroke="#000" stroke-width="1.6"/>
<path d="M102.9,612.8 C106.9,612.1 116.4,607.8 126.6,608.8 C136.8,609.8 153.5,615.1 164,618.7 C174.5,622.3 183.3,625.9 189.7,630.5 C196.1,635.1 200,639.7 202.6,646.3 C205.2,652.9 204.5,661 205,670 C205.5,679 205.7,692 205.5,700 C205.3,708 204.2,715 204,718" fill="none" stroke="#000" stroke-width="2.6"/>
<path d="M108,606.5 C113.3,606.2 128.8,603.2 140,605 C151.2,606.8 165.5,612.5 175,617 C184.5,621.5 191.8,626.8 197,632 C202.2,637.2 204,640 206,648 C208,656 208.6,668.7 209,680 C209.4,691.3 208.6,710 208.5,716" fill="none" stroke="#000" stroke-width="1"/>
<polyline points="201,722 212,715" fill="none" stroke="#000" stroke-width="1.6"/>
<path d="M148,617 C148.3,614.2 148.3,605.7 150,600 C151.7,594.3 154.7,585.5 158,583 C161.3,580.5 165.5,583.8 170,585 C174.5,586.2 182.5,589.2 185,590" fill="none" stroke="#000" stroke-width="1"/>
<path d="M160,612 C160.3,609.5 160.3,601.2 162,597 C163.7,592.8 168.7,588.7 170,587" fill="none" stroke="#000" stroke-width="1"/>
<path d="M174,616 C174.5,613.3 175.2,604.2 177,600 C178.8,595.8 183.7,592.5 185,591" fill="none" stroke="#000" stroke-width="1"/>
<polyline points="185,590 199.6,604 174,616.7" fill="none" stroke="#000" stroke-width="1"/>
<polyline points="145,597 183,607" fill="none" stroke="#000" stroke-width="1"/>
<polyline points="209.5,640.4 282.5,602.9" fill="none" stroke="#000" stroke-width="1.6"/>
<polygon points="217.1,658.8 216.4,652.2 264.5,628.6 265.8,635.8" fill="none" stroke="#000" stroke-width="1.8"/>
<polyline points="218.8,655.1 263.1,631.8" fill="none" stroke="#222" stroke-width="1.6" stroke-dasharray="1.6 1.4"/>
<polygon points="218.4,681.2 217.8,675.3 266.4,650.3 267.8,656.8" fill="none" stroke="#000" stroke-width="1.8"/>
<polyline points="220.1,677.9 265.1,653.1" fill="none" stroke="#222" stroke-width="1.6" stroke-dasharray="1.6 1.4"/>
<polygon points="218.4,702.9 217.8,695.7 267.1,672 268.4,677.9" fill="none" stroke="#000" stroke-width="1.8"/>
<polyline points="220.1,698.9 265.8,674.6" fill="none" stroke="#222" stroke-width="1.6" stroke-dasharray="1.6 1.4"/>
<path d="M201,721 C209.2,717.3 235.2,706.2 250,699 C264.8,691.8 282.9,681.5 289.5,678" fill="none" stroke="#000" stroke-width="2.4"/>
<polyline points="170,732.5 205,720" fill="none" stroke="#000" stroke-width="1.6"/>
<path d="M282.3,599.8 C289,596.4 310,585.3 322.6,579.6 C335.2,573.9 345.4,570.1 357.7,565.6 C370,561.1 386.4,555.4 396.3,552.5 C406.2,549.6 403.4,550.5 417.4,548 C431.3,545.5 461.2,540.7 480,537.5 C498.8,534.3 516.7,531.4 530,529 C543.3,526.6 548.4,526.1 560,523.4 C571.6,520.7 587.9,516.6 599.5,512.9 C611.1,509.2 623.4,503.6 629.7,501 C636.1,498.4 632.3,500.6 637.6,497.1 C642.9,493.6 655.1,485 661.3,480 C667.4,475 671.4,471.6 674.5,466.9 C677.6,462.2 678.9,456.5 680,452 C681.1,447.5 681,443.4 681,440 C681,436.6 681.1,435.4 680,431.5 C678.9,427.6 676.7,420.6 674.5,416.6 C672.3,412.6 668.2,408.9 667,407.3" fill="none" stroke="#000" stroke-width="2.6"/>
<path d="M289.5,678 C294.6,675 311.6,665 320,660 C328.4,655 329.5,653.2 340.2,648 C350.9,642.8 374,633.1 384,628.8 C394,624.5 393.8,624.5 400,622 C406.2,619.5 409.5,616.5 421.4,614 C433.3,611.5 451.1,610.8 471.3,607 C491.5,603.2 527.7,594.5 542.5,591.3 C557.3,588.1 548.8,591 560,588 C571.2,585 596.8,578.5 610,573.4 C623.2,568.3 629.8,564.4 639,557.6 C648.2,550.8 658.7,540.1 665.3,532.6 C671.9,525.1 675.4,519.5 678.4,512.9 C681.4,506.3 682.1,498.7 683,493.2 C683.9,487.7 683.7,484.7 683.7,480 C683.7,475.3 683.6,469.7 683,465 C682.4,460.3 680.5,454.2 680,452" fill="none" stroke="#000" stroke-width="2.6"/>
<polyline points="282.3,599.8 287.5,614.7 289.5,678" fill="none" stroke="#000" stroke-width="1.4"/>
<polyline points="419,548 419.5,611" fill="none" stroke="#000" stroke-width="1.3"/>
<polyline points="421.5,548 422,611" fill="none" stroke="#000" stroke-width="1"/>
<polyline points="638,498 639.5,546" fill="none" stroke="#000" stroke-width="1.3"/>
<polyline points="640.5,497 642,545" fill="none" stroke="#000" stroke-width="1"/>
<path d="M287.5,615.6 C296.2,611.7 321.9,600 340,592 C358.1,584 382.7,572.6 396.3,567.4 C409.9,562.2 407.4,563.5 421.4,560.6 C435.3,557.7 461.9,553.3 480,550 C498.1,546.7 516.7,543.5 530,541 C543.3,538.5 548.4,537.7 560,535 C571.6,532.3 588.5,528.7 599.5,525 C610.5,521.3 619.2,515.9 625.8,513 C632.4,510.1 633.3,510.6 639,507.6 C644.7,504.6 653.4,499.6 660,495 C666.6,490.4 675.3,482.5 678.4,480" fill="none" stroke="#000" stroke-width="1"/>
<path d="M287.5,618.2 C296.2,614.3 321.9,602.6 340,594.6 C358.1,586.6 382.7,575.2 396.3,570 C409.9,564.8 407.4,566.1 421.4,563.2 C435.3,560.3 461.9,555.9 480,552.6 C498.1,549.3 516.7,546.1 530,543.6 C543.3,541.1 548.4,540.3 560,537.6 C571.6,534.9 588.5,531.3 599.5,527.6 C610.5,523.9 619.2,518.5 625.8,515.6 C632.4,512.7 633.3,513.2 639,510.2 C644.7,507.2 653.4,502.2 660,497.6 C666.6,493 675.3,485.1 678.4,482.6" fill="none" stroke="#000" stroke-width="1"/>
<path d="M287.5,616.9 C296.2,613 321.9,601.3 340,593.3 C358.1,585.3 382.7,573.9 396.3,568.7 C409.9,563.5 407.4,564.8 421.4,561.9 C435.3,559 461.9,554.6 480,551.3 C498.1,548 516.7,544.8 530,542.3 C543.3,539.8 548.4,539 560,536.3 C571.6,533.6 588.5,530 599.5,526.3 C610.5,522.6 619.2,517.2 625.8,514.3 C632.4,511.4 633.3,511.9 639,508.9 C644.7,505.9 653.4,500.9 660,496.3 C666.6,491.7 675.3,483.8 678.4,481.3" fill="none" stroke="#333" stroke-width="1.6" stroke-dasharray="1.5 1.5"/>
<path d="M288.4,637.5 C297,633.4 321.4,621.2 340,613 C358.6,604.8 386.2,593.9 399.8,588.4 C413.4,582.9 408,583.3 421.4,579.9 C434.8,576.5 461.9,571.8 480,568 C498.1,564.2 516.7,560.3 530,557 C543.3,553.7 548.3,551.7 560,548.4 C571.7,545.1 587.7,541.2 600,537 C612.3,532.8 626.8,526.3 633.7,523.4 C640.6,520.5 636.4,522.6 641.6,519.5 C646.8,516.4 658.2,509.8 665,505 C671.8,500.2 679.5,492.9 682.4,490.5" fill="none" stroke="#000" stroke-width="1"/>
<path d="M288.4,640.1 C297,636 321.4,623.8 340,615.6 C358.6,607.4 386.2,596.5 399.8,591 C413.4,585.5 408,585.9 421.4,582.5 C434.8,579.1 461.9,574.4 480,570.6 C498.1,566.8 516.7,562.9 530,559.6 C543.3,556.3 548.3,554.3 560,551 C571.7,547.7 587.7,543.8 600,539.6 C612.3,535.4 626.8,528.9 633.7,526 C640.6,523.1 636.4,525.2 641.6,522.1 C646.8,519 658.2,512.4 665,507.6 C671.8,502.8 679.5,495.5 682.4,493.1" fill="none" stroke="#000" stroke-width="1"/>
<path d="M288.4,638.8 C297,634.7 321.4,622.5 340,614.3 C358.6,606.1 386.2,595.2 399.8,589.7 C413.4,584.2 408,584.6 421.4,581.2 C434.8,577.8 461.9,573.1 480,569.3 C498.1,565.5 516.7,561.6 530,558.3 C543.3,555 548.3,553 560,549.7 C571.7,546.4 587.7,542.5 600,538.3 C612.3,534.1 626.8,527.6 633.7,524.7 C640.6,521.8 636.4,523.9 641.6,520.8 C646.8,517.7 658.2,511.1 665,506.3 C671.8,501.5 679.5,494.2 682.4,491.8" fill="none" stroke="#333" stroke-width="1.6" stroke-dasharray="1.5 1.5"/>
<path d="M289.3,658.6 C297.8,654.2 321.9,641.1 340,632 C358.1,622.9 384.4,610 398,604 C411.6,598 407.7,599.7 421.4,596.2 C435.1,592.7 461.9,587.2 480,583 C498.1,578.8 516.7,574.6 530,571 C543.3,567.4 548.3,565.1 560,561.6 C571.7,558.1 587.7,554 600,550 C612.3,546 626.8,540.8 633.7,537.9 C640.6,535 636.4,536.1 641.6,532.6 C646.8,529.1 658.2,522.3 665,517 C671.8,511.7 679.5,503.7 682.4,501" fill="none" stroke="#000" stroke-width="1"/>
<path d="M289.3,661.2 C297.8,656.8 321.9,643.7 340,634.6 C358.1,625.5 384.4,612.6 398,606.6 C411.6,600.6 407.7,602.3 421.4,598.8 C435.1,595.3 461.9,589.8 480,585.6 C498.1,581.4 516.7,577.2 530,573.6 C543.3,570 548.3,567.7 560,564.2 C571.7,560.7 587.7,556.6 600,552.6 C612.3,548.6 626.8,543.4 633.7,540.5 C640.6,537.6 636.4,538.7 641.6,535.2 C646.8,531.7 658.2,524.9 665,519.6 C671.8,514.3 679.5,506.3 682.4,503.6" fill="none" stroke="#000" stroke-width="1"/>
<path d="M289.3,659.9 C297.8,655.5 321.9,642.4 340,633.3 C358.1,624.2 384.4,611.3 398,605.3 C411.6,599.3 407.7,601 421.4,597.5 C435.1,594 461.9,588.5 480,584.3 C498.1,580.1 516.7,575.9 530,572.3 C543.3,568.7 548.3,566.4 560,562.9 C571.7,559.4 587.7,555.2 600,551.3 C612.3,547.3 626.8,542.1 633.7,539.2 C640.6,536.3 636.4,537.4 641.6,533.9 C646.8,530.4 658.2,523.6 665,518.3 C671.8,513 679.5,505 682.4,502.3" fill="none" stroke="#333" stroke-width="1.6" stroke-dasharray="1.5 1.5"/>
<path d="M421.4,608.4 C431.2,606 461.9,598.4 480,594 C498.1,589.6 516.7,585.4 530,582 C543.3,578.6 548.3,576.7 560,573.4 C571.7,570.1 587.7,566 600,562 C612.3,558 626.3,552.8 633.7,549.7 C641.1,546.6 639,546.8 644.2,543.2 C649.4,539.6 658.9,533 665,528 C671.1,523 678.3,515.4 681,512.9" fill="none" stroke="#000" stroke-width="1"/>
<path d="M421.4,611 C431.2,608.6 461.9,601 480,596.6 C498.1,592.2 516.7,588 530,584.6 C543.3,581.2 548.3,579.3 560,576 C571.7,572.7 587.7,568.5 600,564.6 C612.3,560.7 626.3,555.4 633.7,552.3 C641.1,549.2 639,549.4 644.2,545.8 C649.4,542.2 658.9,535.7 665,530.6 C671.1,525.5 678.3,518 681,515.5" fill="none" stroke="#000" stroke-width="1"/>
<path d="M421.4,609.7 C431.2,607.3 461.9,599.7 480,595.3 C498.1,590.9 516.7,586.7 530,583.3 C543.3,579.9 548.3,578 560,574.7 C571.7,571.4 587.7,567.2 600,563.3 C612.3,559.3 626.3,554.1 633.7,551 C641.1,547.9 639,548.1 644.2,544.5 C649.4,540.9 658.9,534.3 665,529.3 C671.1,524.2 678.3,516.7 681,514.2" fill="none" stroke="#333" stroke-width="1.6" stroke-dasharray="1.5 1.5"/>
<path d="M400,618 C403.6,616.8 408.1,614.3 421.4,611 C434.7,607.7 456.9,603.6 480,598 C503.1,592.4 533.5,585.7 560,577.4 C586.5,569.1 619.7,558 639,548.4 C658.3,538.8 669.7,524.3 675.8,519.5" fill="none" stroke="#000" stroke-width="1"/>
<polyline points="396,553 419,567" fill="none" stroke="#000" stroke-width="0.9" stroke-dasharray="3 2"/>
<polyline points="396,568 419,555" fill="none" stroke="#000" stroke-width="0.9" stroke-dasharray="3 2"/>
<polyline points="398,589 419,601" fill="none" stroke="#000" stroke-width="0.9" stroke-dasharray="3 2"/>
<polyline points="398,603 419,590" fill="none" stroke="#000" stroke-width="0.9" stroke-dasharray="3 2"/>
<polyline points="21.2,655 105,608.8" fill="none" stroke="#000" stroke-width="2.6"/>
<path d="M20.2,657 C20.8,652.8 21.7,655.4 24,655 C26.3,654.6 30.1,654.4 34,654.5 C37.9,654.6 40.4,653.8 47.3,655.9 C54.2,658 65.9,662.6 75.2,667 C84.5,671.4 96.8,677.6 103.2,682 C109.6,686.4 111.2,689.5 113.4,693.2 C115.6,696.9 115.6,698.2 116.2,704.3 C116.8,710.4 116.7,721.4 117,730 C117.3,738.6 118.5,751.1 118,756 C117.5,760.9 121.5,760.8 114.3,759.5 C107.1,758.2 87.7,752.2 75,748 C62.3,743.8 46.4,738.4 38,734.2 C29.6,730 27.7,728 24.9,723 C22.1,718 22,711.5 21.2,704.3 C20.4,697.1 20.4,687.9 20.2,680 C20,672.1 19.6,661.2 20.2,657Z" fill="#000" stroke="#000" stroke-width="2.6"/>
<path d="M23.5,666 C23.6,672.3 23.2,695 23.8,704 C24.4,713 24.5,715.6 27,720 C29.5,724.4 31,726.4 39,730.5 C47,734.6 62.7,740.2 75,744.5 C87.3,748.8 106.7,754.1 113,756" fill="none" stroke="#fff" stroke-width="0.8"/>
<polyline points="22,684 116.5,724.5" fill="none" stroke="#fff" stroke-width="2.8"/>
<polyline points="113.8,690 200,645" fill="none" stroke="#000" stroke-width="2"/>
<polyline points="117.5,757.5 205,720" fill="none" stroke="#000" stroke-width="2.4"/>
<polyline points="120,700 200,657.5" fill="none" stroke="#000" stroke-width="1"/>
<polyline points="114.7,689.7 197.6,648.3" fill="none" stroke="#000" stroke-width="1"/>
<path d="M63.4,652.3 C63.1,650 66.4,647.9 70,645 C73.6,642.1 80.5,637.5 85,635 C89.5,632.5 93.4,629.8 97.2,629.8 C101,629.8 105.1,632.8 108,635 C110.9,637.2 113.7,640.5 114.8,643.2 C115.9,645.9 117.3,648.5 114.8,651 C112.3,653.5 104.7,656.1 100,658 C95.3,659.9 91.3,662 86.6,662.2 C81.9,662.4 75.9,660.6 72,659 C68.1,657.4 63.7,654.6 63.4,652.3Z" fill="none" stroke="#000" stroke-width="1.4"/>
<path d="M74,643 L90,633.5 L100,634 L111,642 L110,648 L94,655 L80,652Z" fill="#000" opacity="0.6"/>
<polyline points="70,653 86,659 100,654" fill="none" stroke="#000" stroke-width="1"/>
<polyline points="93,660.5 137,645.5" fill="none" stroke="#000" stroke-width="1.1" stroke-dasharray="5 2"/>
<polyline points="91,657.5 135,643" fill="none" stroke="#000" stroke-width="1" stroke-dasharray="5 2"/>
</svg>
<div class="lb" style="left:591.5px;top:799.0px;transform:scaleX(0.81)">1</div>
<div class="lb" style="left:1086.5px;top:626.0px;transform:scaleX(0.81)">2</div>
<div class="lb" style="left:1130.0px;top:332.0px;transform:scaleX(0.81)">3</div>
<div class="lb" style="left:322.5px;top:802.5px;transform:scaleX(0.81)">4</div>
<div class="lb" style="left:453.0px;top:730.5px;transform:scaleX(0.81)">5</div>
<div class="lb" style="left:849.0px;top:417.0px;transform:scaleX(0.81)">6</div>
<div class="lb" style="left:834.0px;top:329.5px;transform:scaleX(0.81)">7</div>
<div class="lb" style="left:1008.0px;top:83.0px;transform:scaleX(0.81)">8</div>
<div class="lb" style="left:295.0px;top:91.0px;transform:scaleX(0.81)">9</div>
<div class="lb" style="left:236.4px;top:167.0px;transform:scaleX(0.81)">10</div>
<div class="lb" style="left:274.4px;top:250.0px;transform:scaleX(0.81)">11</div>
<div class="lb" style="left:182.4px;top:314.5px;transform:scaleX(0.81)">12</div>
<div class="lb" style="left:172.4px;top:417.0px;transform:scaleX(0.81)">13</div>
</body></html>
